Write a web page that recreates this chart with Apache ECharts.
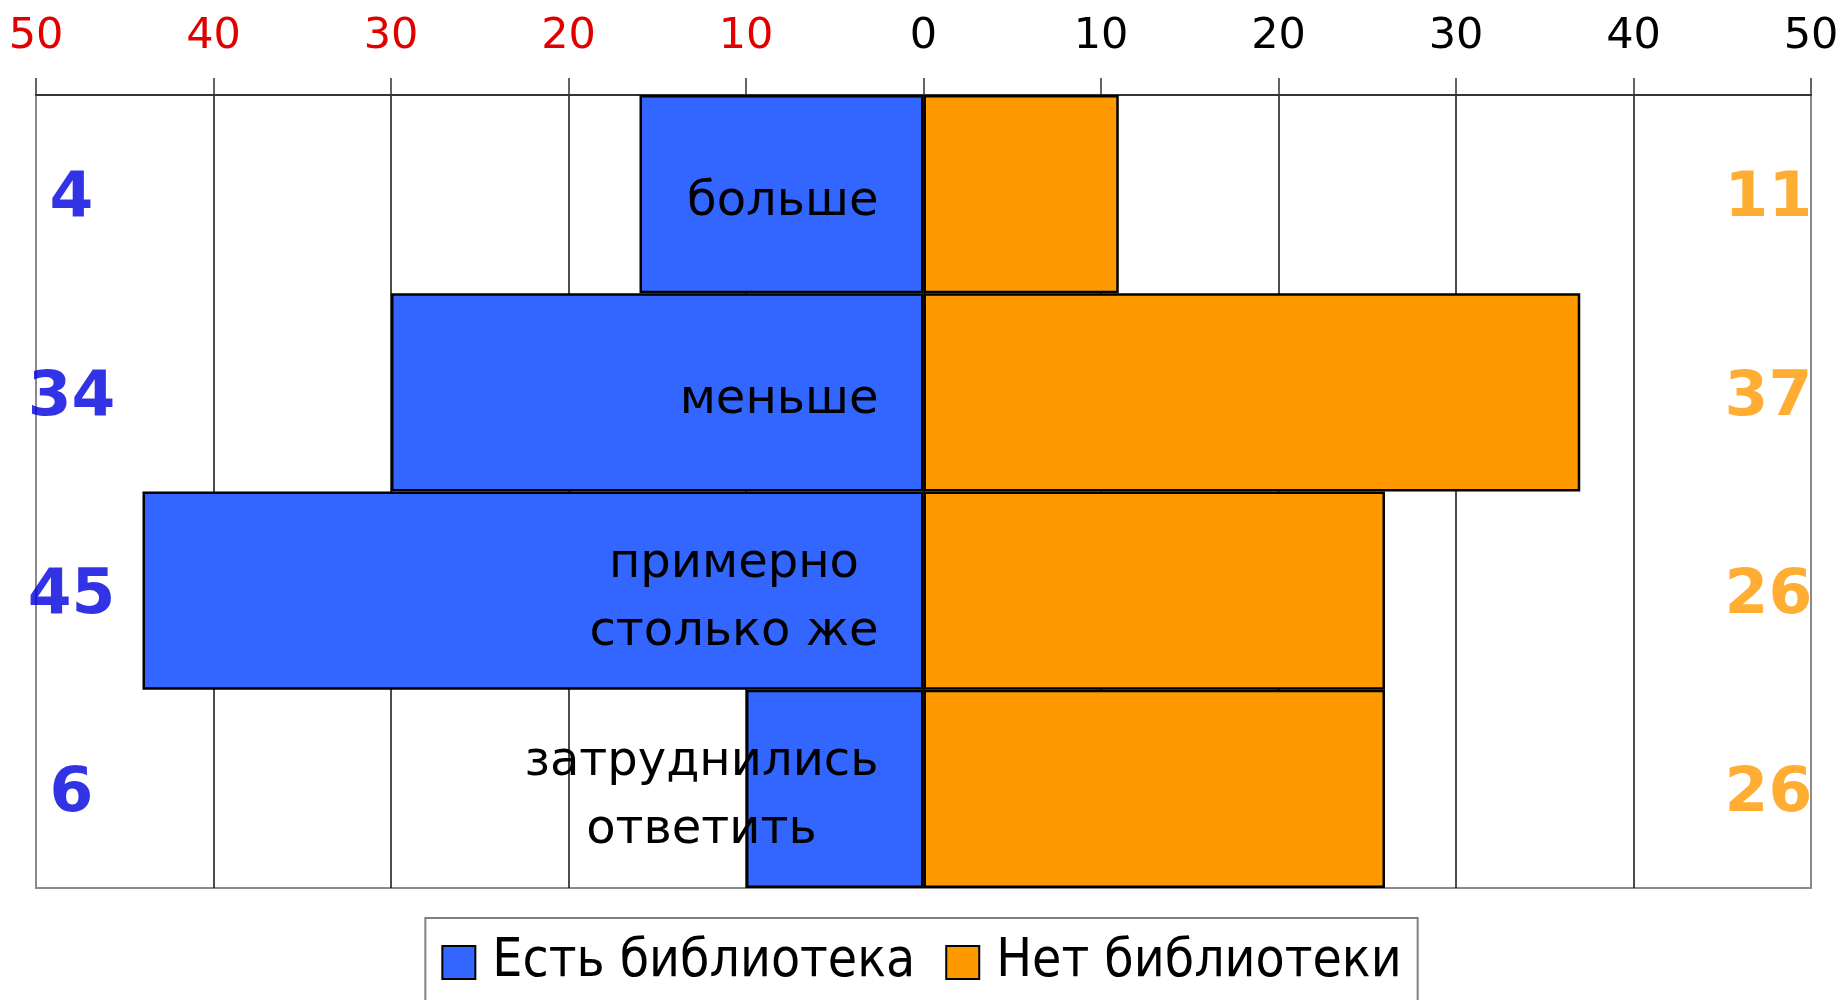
<!DOCTYPE html>
<html>
<head>
<meta charset="utf-8">
<script src="https://cdn.jsdelivr.net/npm/echarts@6/dist/echarts.min.js"></script>
<style>
html,body{margin:0;padding:0;background:#fff;}
#chart{width:1843px;height:1000px;}
</style>
</head>
<body>
<div id="chart"></div>
<script>
// ---- data ----
const categories = ['больше', 'меньше', 'примерно\nстолько же', 'затруднились\nответить'];
const seriesNames = ['Есть библиотека', 'Нет библиотеки'];
const withLibrary = [-16, -30, -44, -10];          // drawn to the left of zero
const withoutLibrary = [11, 37, 26, 26];
const withLibraryLabels = ['4', '34', '45', '6'];
const withoutLibraryLabels = ['11', '37', '26', '26'];
const axisMin = -50, axisMax = 50, axisStep = 10;

// ---- styles ----
const BLUE = '#3366ff', ORANGE = '#ff9900', LABEL_BLUE = '#0000e0';
const LEFT_LABEL_X = -48, RIGHT_LABEL_X = 47.6;

const chart = echarts.init(document.getElementById('chart'), null, {renderer: 'canvas'});

const option = {
  backgroundColor: '#ffffff',
  animation: false,
  grid: {
    left: 36, right: 32, top: 95, bottom: 112,
    show: true, borderColor: '#8a8a8a', borderWidth: 2, backgroundColor: 'transparent'
  },
  xAxis: {
    type: 'value', position: 'top',
    min: axisMin, max: axisMax, interval: axisStep,
    axisLine: {show: true, lineStyle: {color: '#333', width: 2}},
    axisTick: {show: true, inside: false, length: 17, lineStyle: {color: '#333', width: 1.5}},
    axisLabel: {
      margin: 37,
      fontFamily: 'DejaVu Sans', fontSize: 43,
      formatter: v => String(Math.abs(v)),
      color: v => (Number(v) < 0 ? '#e00000' : '#000000')
    },
    splitLine: {show: true, showMinLine: false, showMaxLine: false, lineStyle: {color: '#111', width: 1.5}}
  },
  yAxis: {
    type: 'category', inverse: true, data: categories,
    axisLine: {show: false}, axisTick: {show: false}, axisLabel: {show: false}, splitLine: {show: false}
  },
  legend: {
    data: seriesNames,
    top: 918, left: 'center',
    icon: 'rect', itemWidth: 33, itemHeight: 33, itemGap: 30,
    padding: [18, 16, 60, 16],
    borderColor: '#808080', borderWidth: 2,
    textStyle: {fontFamily: 'DejaVu Sans Condensed', fontSize: 53, color: '#000', padding: [0, 0, 0, 12]}
  },
  series: [
    {
      name: seriesNames[0], type: 'bar', data: withLibrary,
      barCategoryGap: 0, barGap: '-100%',
      itemStyle: {color: BLUE, borderColor: '#000', borderWidth: 2.5},
      label: {
        show: true, position: 'insideRight', distance: 45, offset: [0, 8],
        formatter: p => p.name.split('\n').map(s => '{c|' + s + '}').join('\n'),
        rich: {c: {align: 'center', fontFamily: 'DejaVu Sans', fontSize: 48, lineHeight: 68, color: '#000'}}
      },
      z: 3
    },
    {
      name: seriesNames[1], type: 'bar', data: withoutLibrary,
      barCategoryGap: 0, barGap: '-100%',
      itemStyle: {color: ORANGE, borderColor: '#000', borderWidth: 2.5},
      z: 3
    },
    {
      name: 'leftValues', type: 'scatter', silent: true,
      data: withLibraryLabels.map((t, i) => [LEFT_LABEL_X, i]),
      symbolSize: 1, itemStyle: {color: 'rgba(0,0,0,0)'},
      label: {
        show: true, position: 'inside', offset: [0, 6],
        formatter: p => withLibraryLabels[p.dataIndex],
        fontFamily: 'DejaVu Sans', fontWeight: 'bold', fontSize: 63, color: LABEL_BLUE
      },
      z: 5
    },
    {
      name: 'rightValues', type: 'scatter', silent: true,
      data: withoutLibraryLabels.map((t, i) => [RIGHT_LABEL_X, i]),
      symbolSize: 1, itemStyle: {color: 'rgba(0,0,0,0)'},
      label: {
        show: true, position: 'inside', offset: [0, 6],
        formatter: p => withoutLibraryLabels[p.dataIndex],
        fontFamily: 'DejaVu Sans', fontWeight: 'bold', fontSize: 63, color: ORANGE
      },
      z: 5
    }
  ]
};
chart.setOption(option);
</script>
</body>
</html>
